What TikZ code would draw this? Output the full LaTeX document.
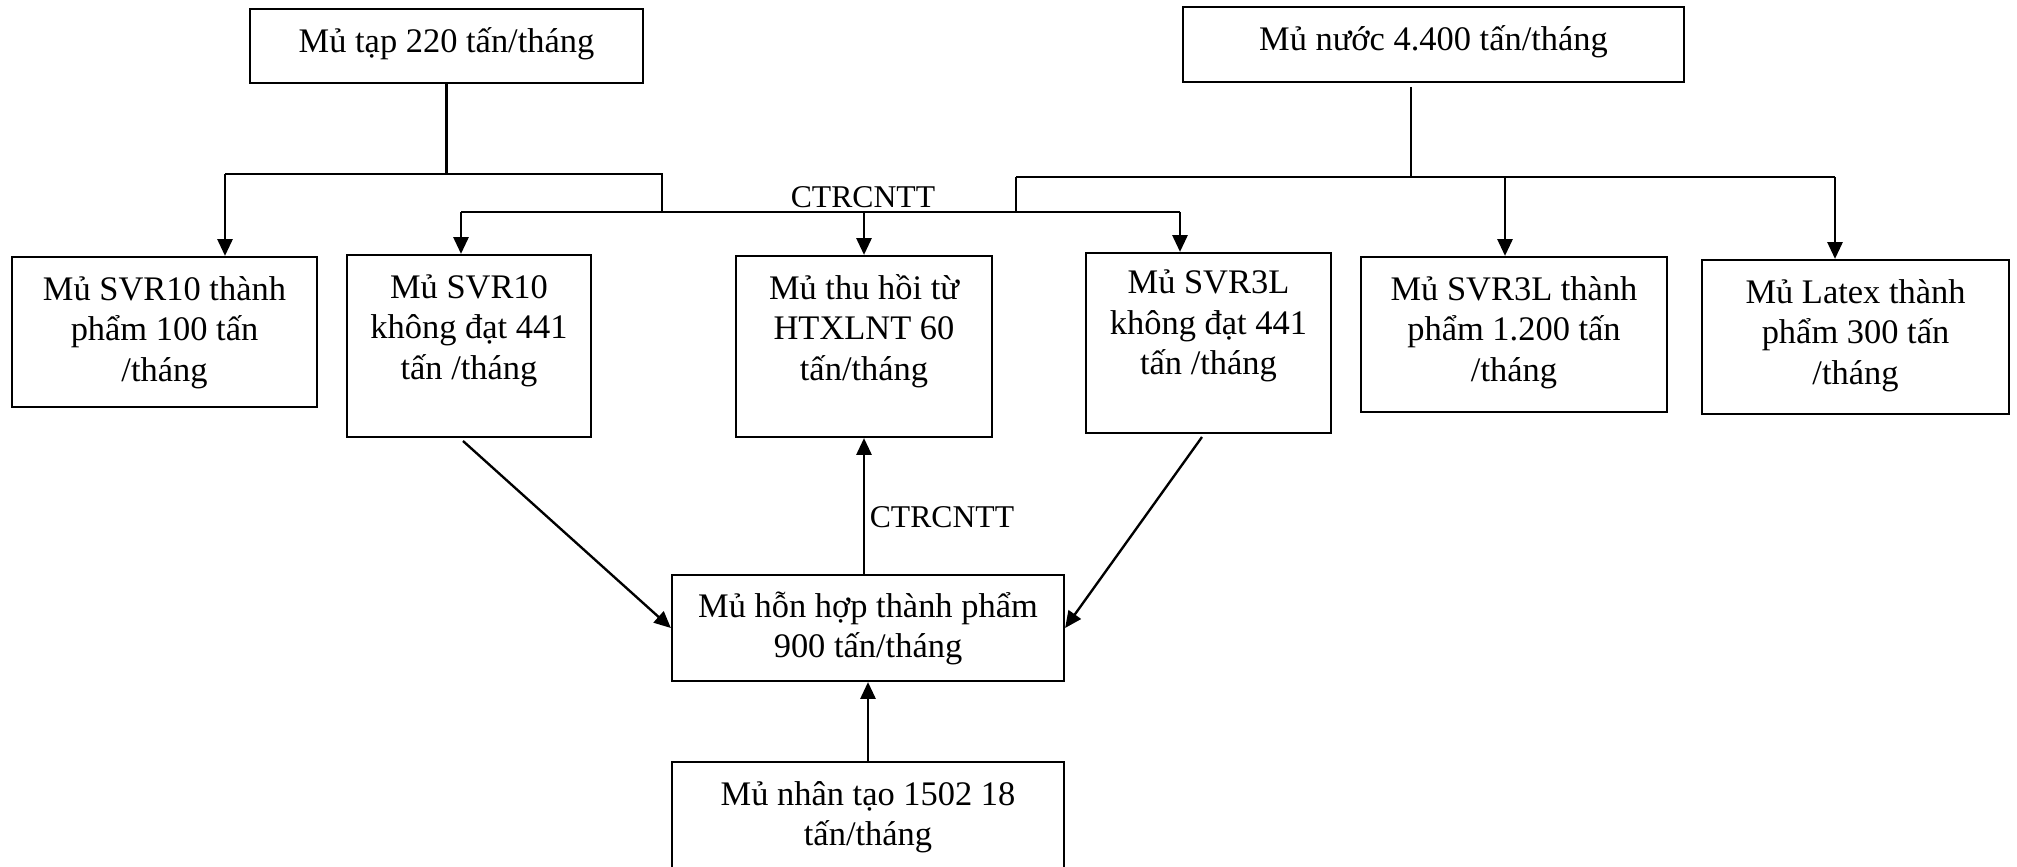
\documentclass[tikz,border=0pt]{standalone}
\usepackage{fontspec}
\setmainfont{Liberation Serif}
\usetikzlibrary{fit,arrows.meta}
\begin{document}
\begin{tikzpicture}[x=0.36pt,y=-0.36pt,
  box/.style={draw,line width=0.8pt,rectangle,inner sep=0pt},
  txt/.style={anchor=north,align=center,inner sep=0pt,font=\fontsize{12.4}{14.5}\selectfont},
  lbl/.style={inner sep=0pt,font=\fontsize{11.4}{13}\selectfont},
  line/.style={line width=0.75pt},
  arr/.style={line width=0.85pt,-{Triangle[length=6pt,width=5.4pt]}}]
\useasboundingbox (0,0) rectangle (2017,867);
\clip (0,0) rectangle (2017,867);
% boxes
\node[box,fit={(250,9)(643,83)}] (tap) {};
\node[box,fit={(1183,7)(1684,82)}] (nuoc) {};
\node[box,fit={(12,257)(317,407)}] (tp10) {};
\node[box,fit={(347,255)(591,437)}] (kd10) {};
\node[box,fit={(736,256)(992,437)}] (thuhoi) {};
\node[box,fit={(1086,253)(1331,433)}] (kd3) {};
\node[box,fit={(1361,257)(1667,412)}] (tp3) {};
\node[box,fit={(1702,260)(2009,414)}] (latex) {};
\node[box,fit={(672,575)(1064,681)}] (hh) {};
\node[box,fit={(672,762)(1064,880)}] (nt) {};
% texts
\node[txt] (tapT) at ([yshift=-5.7pt]tap.north) {\strut Mủ tạp 220 tấn/tháng};
\node[txt] (nuocT) at ([yshift=-5.7pt]nuoc.north) {\strut Mủ nước 4.400 tấn/tháng};
\node[txt] (tp10T) at ([yshift=-5.7pt]tp10.north) {\strut Mủ SVR10 thành\\phẩm 100 tấn\\/tháng};
\node[txt] (kd10T) at ([yshift=-5.7pt]kd10.north) {\strut Mủ SVR10\\không đạt 441\\tấn /tháng};
\node[txt] (thuhoiT) at ([yshift=-5.7pt]thuhoi.north) {\strut Mủ thu hồi từ\\HTXLNT 60\\tấn/tháng};
\node[txt] (kd3T) at ([yshift=-4.8pt]kd3.north) {\strut Mủ SVR3L\\không đạt 441\\tấn /tháng};
\node[txt] (tp3T) at ([yshift=-5.7pt]tp3.north) {\strut Mủ SVR3L thành\\phẩm 1.200 tấn\\/tháng};
\node[txt] (latexT) at ([yshift=-5.7pt]latex.north) {\strut Mủ Latex thành\\phẩm 300 tấn\\/tháng};
\node[txt] (hhT) at ([yshift=-5.2pt]hh.north) {\strut Mủ hỗn hợp thành phẩm\\900 tấn/tháng};
\node[txt] (ntT) at ([yshift=-5.7pt]nt.north) {\strut Mủ nhân tạo 1502 18\\tấn/tháng};
% labels
\node[lbl] (lab1) at (863,197) {CTRCNTT};
\node[lbl] (lab2) at (942,517) {CTRCNTT};
% coordinates
\coordinate (tL) at (225,174);
\coordinate (tR) at (662,174);
\coordinate (bL) at (461,212);
\coordinate (bR) at (1180,212);
\coordinate (nTop) at (1411,87);
\coordinate (nJ) at (1411,177);
\coordinate (nL) at (1016,177);
\coordinate (nR) at (1835,177);
\coordinate (nM) at (1505,177);
\coordinate (d1) at (463,441);
\coordinate (d2) at (1202,437);
% upper connectors
\draw[line] (tap.south) -- (tap.south |- tL);
\draw[line] (tL) -- (tR) -- (tR |- bL);
\draw[arr] (tL) -- (tL |- tp10.north);
\draw[line] (bL) -- (bR);
\draw[arr] (bL) -- (bL |- kd10.north);
\draw[arr] (thuhoi.north |- bL) -- (thuhoi.north);
\draw[arr] (bR) -- (bR |- kd3.north);
\draw[line] (nTop) -- (nJ);
\draw[line] (nL) -- (nR);
\draw[line] (nL) -- (nL |- bL);
\draw[arr] (nM) -- (nM |- tp3.north);
\draw[arr] (nR) -- (nR |- latex.north);
% lower connectors
\draw[arr] (d1) -- (hh.west);
\draw[arr] (d2) -- (hh.east);
\draw[arr] (hh.north -| thuhoi.south) -- (thuhoi.south);
\draw[arr] (nt.north) -- (hh.south);
\end{tikzpicture}
\end{document}
